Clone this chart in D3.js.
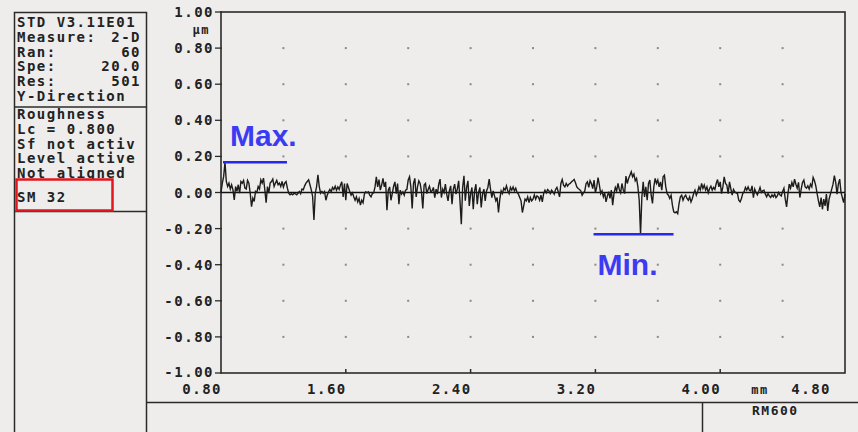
<head>
  <title>Roughness profile</title>
  <script src="https://d3js.org/d3.v7.min.js"></script>
  <style>
    body { margin: 0; background: #efedeb; }
    svg { display: block; }
    .mono { font-family: 'DejaVu Sans Mono', monospace; font-weight: bold; font-size: 14px; fill: #222; letter-spacing: 1.5px; }
    .note { font-family: 'Liberation Sans', Arial, sans-serif; font-weight: bold; font-size: 30px; fill: #3b3cf2; }
  </style>
</head>

<body>
  <svg id='canvas' width='858' height='432'></svg>
</body>

<script>
  // header block, left panel
  infoTop = [['STD V3.11E01', ''], ['Measure:', '2-D'], ['Ran:', '60'], ['Spe:', '20.0'], ['Res:', '501'], ['Y-Direction', '']];
  infoBottom = ['Roughness', 'Lc = 0.800', 'Sf not activ', 'Level active', 'Not aligned'];
  sampleName = 'SM 32';
  deviceName = 'RM600';

  // axes
  yTicks = [1.0, 0.8, 0.6, 0.4, 0.2, 0.0, -0.2, -0.4, -0.6, -0.8, -1.0];
  xTicks = [0.8, 1.6, 2.4, 3.2, 4.0];
  gridX = [1.2, 1.6, 2.0, 2.4, 2.8, 3.2, 3.6, 4.0, 4.4];
  gridY = [0.8, 0.6, 0.4, 0.2, -0.2, -0.4, -0.6, -0.8];
  xStart = 0.8;
  xEnd = 4.8;

  // profile (um) from left to right
  profile = [
    0, 0.052, 0.089, 0.167, 0.061, 0.033, 0.052, 0.019, 0.043, 0.015,
    -0.041, 0.033, 0.006, 0.043, -0.004, 0.061, 0.052, 0.067, 0.024, 0.019,
    0.067, 0.052, -0.004, -0.078, -0.031, -0.05, 0.006, 0, 0.033, 0.019,
    0.07, 0.052, 0.08, 0.015, -0.056, 0.033, -0.004, 0.052, 0.061, 0.074,
    0.033, 0.052, 0.067, 0.043, 0.052, 0.033, 0.061, 0.03, 0.052, 0.061,
    0.024, -0.004, -0.013, -0.007, -0.013, -0.004, -0.007, -0.013, -0.004, 0.006,
    -0.007, 0.019, 0.015, 0.037, 0.052, 0.061, 0.07, 0.043, 0.015, -0.022,
    -0.152, -0.004, 0.033, 0.098, 0.033, -0.004, 0.006, -0.004, 0.006,

    -0.043, -0.015, 0.004, 0.017, 0.004, 0.028, 0.017, 0.035, 0.013, 0.031,
    0.017, 0.041, 0.059, -0.024, 0.05, -0.043, 0.05, 0.028, 0.004, -0.015,
    -0.002, -0.024, -0.043, -0.024, -0.052, -0.033, -0.07, -0.043, -0.057, -0.009,
    0.004, -0.002, 0.004, -0.015, -0.024, -0.006, -0.002, 0.031, 0.087, 0.031,
    0.072, 0.013, 0.041, 0.078, 0.031, 0.059, -0.098, 0.013, 0.031, -0.043,
    -0.006, 0.035, 0.059, -0.006, 0.05, -0.065, 0.013, -0.009, 0.004, -0.015,
    0.013, 0.017, 0.069, 0.087, 0.031, -0.089, 0.05, 0.078, -0.024, 0.031,
    0.065, 0.05, 0.004, -0.089, 0.041, 0.05, -0.006, 0.017, 0.035, 0.004,

    0.009, 0.028, -0.028, 0.019, -0.009, 0.046, 0.074, -0.028, 0.019, 0,
    0.046, -0.009, -0.046, 0.009, 0.037, -0.065, 0.019, 0.046, -0.009, 0.019,
    0.065, -0.046, -0.176, 0.028, 0.093, -0.046, 0.028, 0.065, -0.074, -0.009,
    0.028, -0.093, 0.009, 0.046, -0.065, 0, 0.028, -0.083, -0.009, 0.019,
    -0.046, 0.009, 0.028, 0.074, 0.019, -0.028, 0.009, -0.019, -0.046, -0.028,
    -0.111, -0.037, 0.009, -0.006, 0.024, 0.013, 0.037, 0.009, -0.006, 0.028,
    0.013, 0.031, 0.009, 0.024, 0, -0.009, -0.028, -0.046, -0.111, -0.074,
    -0.037, -0.046, -0.024, -0.056, -0.028, -0.046, -0.037, -0.013, -0.037, -0.019,

    -0.024, -0.043, -0.015, -0.052, -0.006, 0.013, -0.002, 0.017, 0.009, -0.006,
    0.013, 0.004, -0.009, 0.017, 0.028, 0.004, -0.024, 0.05, 0.072, 0.041,
    0.031, 0.05, 0.035, 0.046, 0.05, 0.059, 0.065, 0.072, 0.054, 0.031,
    0.022, 0.017, 0.009, -0.015, -0.002, 0.009, 0.05, 0.059, 0.028, 0.065,
    0.05, 0.022, 0.069, -0.002, 0.031, 0.083, 0.041, -0.006, 0.009, -0.024,
    -0.002, -0.052, -0.02, 0.004, -0.033, 0.013, -0.07, -0.006, 0.028, 0.009,
    0.05, 0.017, -0.002, 0.05, 0.013, -0.006, 0.091, 0.05, 0.078, 0.096,
    0.115, 0.087, 0.102, 0.065, 0.078, 0.031, -0.043, -0.231, -0.024, 0.059,

    -0.024, 0.031, -0.043, 0.05, 0.069, -0.015, -0.061, 0.031, 0.078, 0.05,
    0.069, 0.031, 0.059, 0.013, 0.087, 0.096, 0.031, -0.006, -0.015, -0.033,
    -0.015, -0.07, -0.107, -0.113, -0.107, -0.117, -0.061, -0.024, -0.015, -0.043,
    -0.024, -0.015, -0.033, -0.043, -0.024, -0.052, -0.033, -0.006, 0.013, -0.015,
    0.004, 0.031, 0.013, 0.05, 0.022, 0.041, 0.013, 0.031, -0.002, 0.022,
    0.035, 0.013, 0.028, 0.017, 0.05, 0.072, 0.031, 0.059, -0.006, 0.031,
    0.087, 0.05, 0.041, -0.006, 0.059, 0.022, -0.015, 0.017, 0.004, -0.002,
    -0.006, -0.043, -0.052, -0.033, -0.006, 0.004, 0.028, 0.013, 0.031, 0.013,

    0.009, 0.037, -0.028, 0.019, 0, -0.013, 0.006, 0.028, 0, 0.009,
    0.013, -0.009, -0.024, -0.006, -0.019, -0.028, -0.013, -0.024, -0.009, -0.028,
    -0.019, 0, -0.013, -0.019, 0.006, 0.024, -0.037, -0.08, -0.009, 0.046,
    0.024, 0.056, 0.031, 0.074, 0.046, 0.024, 0.056, -0.028, 0.019, 0.056,
    0.069, 0.031, 0.024, 0.037, 0.019, 0.046, 0.031, 0.083, 0.065, 0.037,
    -0.006, -0.046, -0.08, -0.028, -0.093, -0.037, -0.074, -0.009, -0.102, -0.037,
    -0.009, 0.019, 0.046, 0.093, 0.056, -0.009, 0.046, 0.074, 0, -0.028,
    -0.056, -0.009
  ];

  ink = '#2b2b2b';
  blue = '#2727f0';
  svg = d3.select('#canvas');

  xScale = d3.scaleLinear().domain([xStart, xEnd]).range([221, 845]);
  yScale = d3.scaleLinear().domain([-1, 1]).range([373, 12]);
  step = (xEnd - xStart) / (profile.length - 1);

  // left panel
  svg.append('rect')
    .attr('x', 14.5).attr('y', 12.5)
    .attr('width', 132).attr('height', 440)
    .attr('fill', 'none').attr('stroke', ink).attr('stroke-width', 1.5);
  svg.append('line')
    .attr('x1', 14.5).attr('x2', 146.5).attr('y1', 107).attr('y2', 107)
    .attr('stroke', ink).attr('stroke-width', 1.5);
  svg.append('line')
    .attr('x1', 14.5).attr('x2', 146.5).attr('y1', 211.5).attr('y2', 211.5)
    .attr('stroke', ink).attr('stroke-width', 1.5);

  svg.selectAll('.infoL')
    .data(infoTop)
    .enter()
    .append('text')
    .attr('class', 'mono infoL')
    .attr('x', 17)
    .attr('y', (d, i) => 27 + i * 14.8)
    .text(d => d[0]);
  svg.selectAll('.infoR')
    .data(infoTop)
    .enter()
    .append('text')
    .attr('class', 'mono infoR')
    .attr('x', 141)
    .attr('y', (d, i) => 27 + i * 14.8)
    .attr('text-anchor', 'end')
    .text(d => d[1]);
  svg.selectAll('.infoB')
    .data(infoBottom)
    .enter()
    .append('text')
    .attr('class', 'mono infoB')
    .attr('x', 17)
    .attr('y', (d, i) => 119 + i * 14.8)
    .text(d => d);

  // red highlight box covers the bottom of "Not aligned"
  svg.append('rect')
    .attr('x', 16.5).attr('y', 179.5)
    .attr('width', 96).attr('height', 31)
    .attr('fill', '#efedeb').attr('stroke', '#e3161d').attr('stroke-width', 2.5);
  svg.append('text')
    .attr('class', 'mono')
    .attr('x', 17).attr('y', 202)
    .text(sampleName);

  // bottom box
  svg.append('line')
    .attr('x1', 146.5).attr('x2', 858).attr('y1', 402.5).attr('y2', 402.5)
    .attr('stroke', ink).attr('stroke-width', 1.5);
  svg.append('line')
    .attr('x1', 702.5).attr('x2', 702.5).attr('y1', 402.5).attr('y2', 432)
    .attr('stroke', ink).attr('stroke-width', 1.5);
  svg.append('text')
    .attr('class', 'mono')
    .attr('x', 752).attr('y', 415)
    .style('font-size', '13px')
    .text(deviceName);

  // plot frame
  svg.append('rect')
    .attr('x', xScale(xStart)).attr('y', yScale(1))
    .attr('width', xScale(xEnd) - xScale(xStart))
    .attr('height', yScale(-1) - yScale(1))
    .attr('fill', 'none').attr('stroke', ink).attr('stroke-width', 1.6);

  // grid dots
  gridPts = [];
  gridX.forEach(gx => gridY.forEach(gy => gridPts.push([gx, gy])));
  svg.selectAll('.dot')
    .data(gridPts)
    .enter()
    .append('rect')
    .attr('class', 'dot')
    .attr('x', d => xScale(d[0]) - 1)
    .attr('y', d => yScale(d[1]) - 1)
    .attr('width', 2).attr('height', 2)
    .attr('fill', '#8a8a8a');

  // y axis ticks and labels
  svg.selectAll('.ytick')
    .data(yTicks)
    .enter()
    .append('line')
    .attr('class', 'ytick')
    .attr('x1', xScale(xStart) - 6).attr('x2', xScale(xStart) + 1)
    .attr('y1', d => yScale(d)).attr('y2', d => yScale(d))
    .attr('stroke', ink).attr('stroke-width', 1.3);
  svg.selectAll('.ylab')
    .data(yTicks)
    .enter()
    .append('text')
    .attr('class', 'mono ylab')
    .attr('x', xScale(xStart) - 7)
    .attr('y', d => yScale(d) + (d == -1 ? 4 : 5))
    .attr('text-anchor', 'end')
    .text(d => d.toFixed(2));
  svg.append('text')
    .attr('class', 'mono')
    .attr('x', xScale(xStart) - 11)
    .attr('y', 34)
    .attr('text-anchor', 'end')
    .style('font-size', '12px')
    .text('\u00b5m');

  // x axis ticks and labels
  svg.selectAll('.xtick')
    .data(xTicks.slice(1))
    .enter()
    .append('line')
    .attr('class', 'xtick')
    .attr('x1', d => xScale(d)).attr('x2', d => xScale(d))
    .attr('y1', yScale(-1) - 4).attr('y2', yScale(-1))
    .attr('stroke', ink).attr('stroke-width', 1.5);
  svg.selectAll('.xlab')
    .data(xTicks)
    .enter()
    .append('text')
    .attr('class', 'mono xlab')
    .attr('x', d => xScale(d) + 1)
    .attr('y', 394)
    .attr('text-anchor', 'end')
    .text(d => d.toFixed(2));
  svg.append('text')
    .attr('class', 'mono')
    .attr('x', xScale(xTicks[4]) + 31)
    .attr('y', 394)
    .style('font-size', '12px')
    .text('mm');
  svg.append('text')
    .attr('class', 'mono')
    .attr('x', xScale(xEnd) - 14)
    .attr('y', 394)
    .attr('text-anchor', 'end')
    .text(xEnd.toFixed(2));

  // zero line
  svg.append('line')
    .attr('x1', xScale(xStart)).attr('x2', xScale(xEnd))
    .attr('y1', yScale(0)).attr('y2', yScale(0))
    .attr('stroke', '#111').attr('stroke-width', 1.4);

  // profile trace
  line = d3.line()
    .x((d, i) => xScale(xStart + i * step))
    .y(d => yScale(d));
  svg.append('path')
    .datum(profile)
    .attr('d', line)
    .attr('fill', 'none')
    .attr('stroke', '#1c1c1c')
    .attr('stroke-width', 1.4);

  // max / min annotations
  maxVal = d3.max(profile);
  minVal = d3.min(profile);
  maxI = profile.indexOf(maxVal);
  minI = profile.indexOf(minVal);

  svg.append('line')
    .attr('x1', xScale(xStart + maxI * step) - 2).attr('x2', xScale(xStart + maxI * step) + 62)
    .attr('y1', yScale(maxVal)).attr('y2', yScale(maxVal))
    .attr('stroke', blue).attr('stroke-width', 2.5);
  svg.append('text')
    .attr('class', 'note')
    .attr('x', xScale(xStart + maxI * step) + 5)
    .attr('y', yScale(maxVal) - 16)
    .text('Max.');

  svg.append('line')
    .attr('x1', xScale(xStart + minI * step) - 47).attr('x2', xScale(xStart + minI * step) + 33)
    .attr('y1', yScale(minVal)).attr('y2', yScale(minVal))
    .attr('stroke', blue).attr('stroke-width', 2.5);
  svg.append('text')
    .attr('class', 'note')
    .attr('x', xScale(xStart + minI * step) - 43)
    .attr('y', yScale(minVal) + 41)
    .text('Min.');
</script>
